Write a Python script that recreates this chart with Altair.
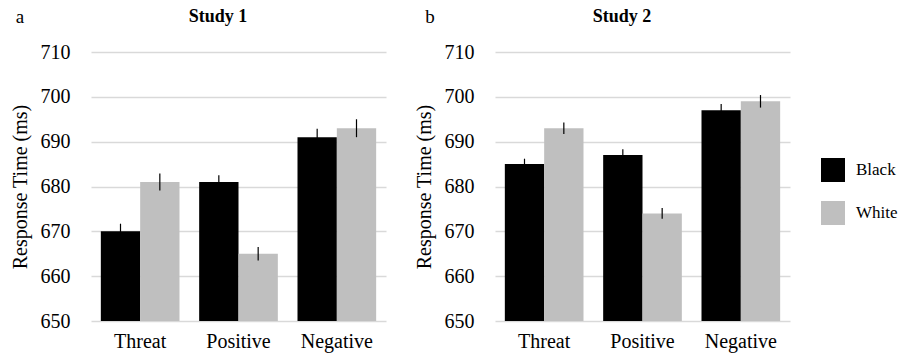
import altair as alt
import pandas as pd

categories = ["Threat", "Positive", "Negative"]
groups = ["Black", "White"]

study1_black = [670, 681, 691]
study1_white = [681, 665, 693]
study1_black_err = [1.7, 1.5, 1.9]
study1_white_err = [1.9, 1.5, 2.0]

study2_black = [685, 687, 697]
study2_white = [693, 674, 699]
study2_black_err = [1.2, 1.3, 1.4]
study2_white_err = [1.3, 1.2, 1.4]

y_ticks = [650, 660, 670, 680, 690, 700, 710]

FONT = "Liberation Serif"


def make_df(black, white, berr, werr):
    rows = []
    for i, c in enumerate(categories):
        rows.append({"Category": c, "Group": "Black", "RT": black[i],
                     "lo": black[i] - berr[i], "hi": black[i] + berr[i]})
        rows.append({"Category": c, "Group": "White", "RT": white[i],
                     "lo": white[i] - werr[i], "hi": white[i] + werr[i]})
    return pd.DataFrame(rows)


def panel(df, title, letter, letter_x):
    x = alt.X("Category:N", sort=categories, title=None,
              scale=alt.Scale(paddingInner=0.2, paddingOuter=0.1),
              axis=alt.Axis(labelAngle=0, ticks=False, domain=False,
                            labelFont=FONT, labelFontSize=20, labelColor="#000",
                            labelPadding=10))
    xo = alt.XOffset("Group:N", sort=groups, scale=alt.Scale(paddingInner=0, paddingOuter=0))
    y_scale = alt.Scale(domain=[650, 710], zero=False, nice=False)
    bars = alt.Chart(df).mark_bar(stroke=None).encode(
        x=x, xOffset=xo,
        y=alt.Y("RT:Q", scale=y_scale, title="Response Time (ms)",
                axis=alt.Axis(values=y_ticks, ticks=False, domain=False,
                              gridColor="#d9d9d9", gridWidth=1.3,
                              labelFont=FONT, labelFontSize=20, labelColor="#000",
                              labelPadding=21, titleFont=FONT, titleFontSize=20,
                              titleFontWeight="normal", titleColor="#000",
                              titlePadding=10)),
        y2=alt.Y2Datum(650),
        color=alt.Color("Group:N", sort=groups,
                        scale=alt.Scale(domain=groups, range=["#000000", "#bfbfbf"]),
                        legend=alt.Legend(title=None, symbolType="square", symbolSize=576,
                                          symbolStrokeWidth=0, labelFont=FONT,
                                          labelFontSize=17, labelColor="#000",
                                          labelOffset=11, rowPadding=19,
                                          orient="none", legendX=730, legendY=106,
                                          symbolOpacity=1)),
    )
    err = alt.Chart(df).mark_rule(color="#000000", strokeWidth=1.2).encode(
        x=alt.X("Category:N", sort=categories), xOffset=xo,
        y=alt.Y("lo:Q", scale=y_scale), y2="hi:Q",
    )
    lab = alt.Chart(pd.DataFrame({"t": [letter]})).mark_text(
        font=FONT, fontSize=19, color="#000", align="center", baseline="middle"
    ).encode(text="t:N", x=alt.value(letter_x), y=alt.value(-35))
    ttl = alt.Chart(pd.DataFrame({"t": [title]})).mark_text(
        font=FONT, fontSize=18, fontWeight="bold", color="#000",
        align="center", baseline="middle"
    ).encode(text="t:N", x=alt.value(127), y=alt.value(-35))
    return alt.layer(bars, err, lab, ttl).properties(width=295, height=269)


df1 = make_df(study1_black, study1_white, study1_black_err, study1_white_err)
df2 = make_df(study2_black, study2_white, study2_black_err, study2_white_err)

chart = alt.hconcat(
    panel(df1, "Study 1", "a", -71),
    panel(df2, "Study 2", "b", -65),
    spacing=28,
).configure_view(stroke=None).properties(
    padding={"left": 10, "top": 8, "right": 0, "bottom": 3}
)

chart.save("out.html", embed_options={"renderer": "svg", "actions": False})
